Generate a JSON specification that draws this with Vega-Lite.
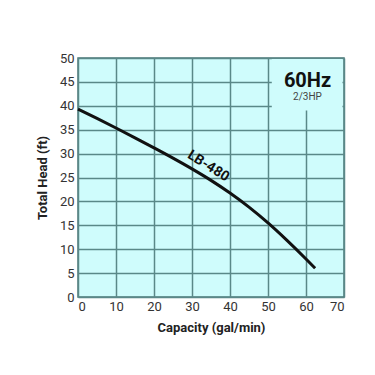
{
  "$schema": "https://vega.github.io/schema/vega-lite/v6.json",
  "width": 266,
  "height": 239,
  "autosize": "none",
  "padding": {"left": 78, "top": 58, "right": 31, "bottom": 78},
  "background": "white",
  "config": {
    "view": {"fill": "#cffcfc", "stroke": "#4e7a7a", "strokeWidth": 1.5},
    "font": "Roboto",
    "axis": {
      "titleFont": "Roboto", "titleFontSize": 13, "titleFontWeight": "bold", "titleColor": "#222",
      "labelFont": "Roboto", "labelFontSize": 13, "labelColor": "#333",
      "labelOverlap": false,
      "ticks": false, "domain": false,
      "grid": true, "gridColor": "#5a8888", "gridWidth": 1.5, "gridOpacity": 1
    }
  },
  "datasets": {
    "curve": [
      {"q": 0, "h": 39.3},
      {"q": 5, "h": 37.35},
      {"q": 10, "h": 35.35},
      {"q": 15, "h": 33.3},
      {"q": 20, "h": 31.2},
      {"q": 25, "h": 29.05},
      {"q": 30, "h": 26.8},
      {"q": 35, "h": 24.4},
      {"q": 40, "h": 21.75},
      {"q": 45, "h": 18.8},
      {"q": 50, "h": 15.5},
      {"q": 55, "h": 11.85},
      {"q": 60, "h": 7.95},
      {"q": 62.4, "h": 6.0}
    ],
    "box": [{"x1": 51, "x2": 69.6, "y1": 39, "y2": 49.8}],
    "labels": [
      {"x": 60.4, "y": 45.2, "t": "60Hz", "kind": "big"},
      {"x": 60.4, "y": 41.8, "t": "2/3HP", "kind": "small"},
      {"x": 34.3, "y": 27.4, "t": "LB-480", "kind": "curve"}
    ]
  },
  "layer": [
    {
      "data": {"name": "box"},
      "mark": {"type": "rect", "fill": "#cffcfc"},
      "encoding": {
        "x": {
          "field": "x1", "type": "quantitative",
          "scale": {"domain": [0, 70], "nice": false},
          "axis": {"values": [0, 10, 20, 30, 40, 50, 60, 70], "title": "Capacity (gal/min)", "titlePadding": 8, "labelPadding": 3}
        },
        "x2": {"field": "x2"},
        "y": {
          "field": "y1", "type": "quantitative",
          "scale": {"domain": [0, 50], "nice": false},
          "axis": {"values": [0, 5, 10, 15, 20, 25, 30, 35, 40, 45, 50], "title": "Total Head (ft)", "titlePadding": 10, "labelPadding": 4}
        },
        "y2": {"field": "y2"}
      }
    },
    {
      "data": {"name": "curve"},
      "mark": {"type": "line", "color": "#111", "strokeWidth": 3, "interpolate": "monotone"},
      "encoding": {
        "x": {"field": "q", "type": "quantitative", "axis": {"values": [0, 10, 20, 30, 40, 50, 60, 70], "title": "Capacity (gal/min)", "titlePadding": 8, "labelPadding": 3}},
        "y": {"field": "h", "type": "quantitative", "axis": {"values": [0, 5, 10, 15, 20, 25, 30, 35, 40, 45, 50], "title": "Total Head (ft)", "titlePadding": 10, "labelPadding": 4}}
      }
    },
    {
      "data": {"name": "labels"},
      "transform": [{"filter": "datum.kind == 'big'"}],
      "mark": {"type": "text", "font": "Roboto", "fontSize": 20, "fontWeight": "bold", "color": "#111", "align": "center", "baseline": "middle"},
      "encoding": {
        "x": {"field": "x", "type": "quantitative", "axis": {"values": [0, 10, 20, 30, 40, 50, 60, 70], "title": "Capacity (gal/min)", "titlePadding": 8, "labelPadding": 3}},
        "y": {"field": "y", "type": "quantitative", "axis": {"values": [0, 5, 10, 15, 20, 25, 30, 35, 40, 45, 50], "title": "Total Head (ft)", "titlePadding": 10, "labelPadding": 4}},
        "text": {"field": "t"}
      }
    },
    {
      "data": {"name": "labels"},
      "transform": [{"filter": "datum.kind == 'small'"}],
      "mark": {"type": "text", "font": "Roboto", "fontSize": 10, "color": "#444", "align": "center", "baseline": "middle"},
      "encoding": {
        "x": {"field": "x", "type": "quantitative", "axis": {"values": [0, 10, 20, 30, 40, 50, 60, 70], "title": "Capacity (gal/min)", "titlePadding": 8, "labelPadding": 3}},
        "y": {"field": "y", "type": "quantitative", "axis": {"values": [0, 5, 10, 15, 20, 25, 30, 35, 40, 45, 50], "title": "Total Head (ft)", "titlePadding": 10, "labelPadding": 4}},
        "text": {"field": "t"}
      }
    },
    {
      "data": {"name": "labels"},
      "transform": [{"filter": "datum.kind == 'curve'"}],
      "mark": {"type": "text", "font": "Roboto", "fontSize": 14, "fontWeight": "bold", "color": "#111", "align": "center", "baseline": "middle", "angle": 32},
      "encoding": {
        "x": {"field": "x", "type": "quantitative", "axis": {"values": [0, 10, 20, 30, 40, 50, 60, 70], "title": "Capacity (gal/min)", "titlePadding": 8, "labelPadding": 3}},
        "y": {"field": "y", "type": "quantitative", "axis": {"values": [0, 5, 10, 15, 20, 25, 30, 35, 40, 45, 50], "title": "Total Head (ft)", "titlePadding": 10, "labelPadding": 4}},
        "text": {"field": "t"}
      }
    }
  ]
}
